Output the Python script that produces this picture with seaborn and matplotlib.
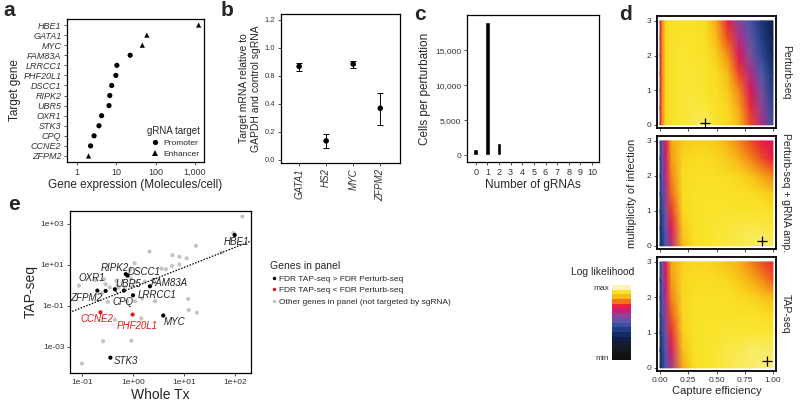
import numpy as np
import pandas as pd
import seaborn as sns
import matplotlib.pyplot as plt
from matplotlib.colors import LinearSegmentedColormap
from matplotlib.lines import Line2D
import matplotlib as mpl

# ---- panel a: expression of target genes
genes_a = ["HBE1", "GATA1", "MYC", "FAM83A", "LRRCC1", "PHF20L1", "DSCC1",
           "RIPK2", "UBR5", "OXR1", "STK3", "CPQ", "CCNE2", "ZFPM2"]
expr_a = [1260, 60, 46, 22.5, 10.3, 9.7, 7.6, 6.8, 6.5, 4.2, 3.6, 2.7, 2.2, 1.95]
target_a = ["Enhancer", "Enhancer", "Enhancer", "Promoter", "Promoter", "Promoter",
            "Promoter", "Promoter", "Promoter", "Promoter", "Promoter", "Promoter",
            "Promoter", "Enhancer"]

# ---- panel b: qPCR
genes_b = ["GATA1", "HS2", "MYC", "ZFPM2"]
mrna_b = [0.80, 0.16, 0.82, 0.44]
lo_b = [0.76, 0.10, 0.79, 0.30]
hi_b = [0.83, 0.22, 0.85, 0.57]
b_tick_labels = ["0.0", "0.2", "0.4", "0.8", "1.0", "1.2"]

# ---- panel c: gRNAs per cell
n_grnas = [0, 1, 2, 3, 4, 5, 6, 7, 8, 9, 10]
cells_c = [950, 19000, 1750, 240, 60, 25, 0, 0, 0, 0, 0]

# ---- panel d: normalised log likelihood (0 = min, 1 = max)
cap_grid = [0, 0.02, 0.05, 0.1, 0.2, 0.3, 0.4, 0.5, 0.6, 0.7, 0.8, 0.9, 1.0]
moi_grid = [0, 0.5, 1, 1.5, 2, 2.5, 3]
ll_perturb = [
    [0.72, 0.82, 0.90, 0.93, 0.95, 0.96, 0.97, 0.94, 0.91, 0.86, 0.77, 0.64, 0.48],
    [0.72, 0.82, 0.90, 0.93, 0.95, 0.96, 0.95, 0.93, 0.90, 0.84, 0.74, 0.60, 0.44],
    [0.72, 0.82, 0.90, 0.93, 0.95, 0.95, 0.94, 0.92, 0.88, 0.81, 0.70, 0.56, 0.40],
    [0.72, 0.82, 0.90, 0.93, 0.95, 0.95, 0.94, 0.91, 0.86, 0.76, 0.64, 0.50, 0.36],
    [0.72, 0.82, 0.90, 0.93, 0.95, 0.94, 0.93, 0.89, 0.82, 0.70, 0.58, 0.45, 0.32],
    [0.72, 0.82, 0.90, 0.93, 0.94, 0.94, 0.92, 0.86, 0.77, 0.64, 0.53, 0.41, 0.29],
    [0.72, 0.82, 0.90, 0.92, 0.93, 0.93, 0.91, 0.84, 0.73, 0.59, 0.49, 0.38, 0.27],
]
ll_amp = [
    [0.36, 0.40, 0.50, 0.64, 0.86, 0.92, 0.94, 0.95, 0.96, 0.96, 0.97, 0.98, 0.97],
    [0.37, 0.42, 0.54, 0.70, 0.88, 0.93, 0.94, 0.95, 0.95, 0.96, 0.96, 0.96, 0.95],
    [0.38, 0.45, 0.58, 0.75, 0.90, 0.93, 0.94, 0.94, 0.94, 0.94, 0.94, 0.94, 0.93],
    [0.40, 0.49, 0.62, 0.79, 0.91, 0.93, 0.93, 0.93, 0.93, 0.92, 0.92, 0.90, 0.88],
    [0.41, 0.52, 0.65, 0.81, 0.91, 0.92, 0.92, 0.92, 0.91, 0.90, 0.88, 0.84, 0.81],
    [0.42, 0.54, 0.68, 0.83, 0.90, 0.91, 0.91, 0.90, 0.88, 0.85, 0.81, 0.77, 0.73],
    [0.44, 0.56, 0.70, 0.84, 0.88, 0.89, 0.89, 0.88, 0.85, 0.81, 0.77, 0.73, 0.70],
]
ll_tap = [
    [0.36, 0.40, 0.50, 0.62, 0.84, 0.92, 0.94, 0.95, 0.96, 0.97, 0.97, 0.98, 0.98],
    [0.37, 0.42, 0.53, 0.68, 0.87, 0.93, 0.94, 0.95, 0.96, 0.96, 0.97, 0.97, 0.97],
    [0.38, 0.45, 0.58, 0.74, 0.89, 0.93, 0.94, 0.94, 0.95, 0.95, 0.95, 0.95, 0.95],
    [0.40, 0.49, 0.62, 0.78, 0.90, 0.93, 0.93, 0.93, 0.93, 0.93, 0.93, 0.92, 0.91],
    [0.41, 0.52, 0.65, 0.81, 0.90, 0.92, 0.92, 0.92, 0.92, 0.91, 0.90, 0.88, 0.86],
    [0.42, 0.55, 0.68, 0.83, 0.90, 0.91, 0.91, 0.91, 0.90, 0.88, 0.85, 0.82, 0.78],
    [0.44, 0.57, 0.70, 0.84, 0.89, 0.90, 0.90, 0.89, 0.87, 0.85, 0.81, 0.77, 0.74],
]
facet_names = ["Perturb-seq", "Perturb-seq + gRNA amp.", "TAP-seq"]
best_cap = [0.40, 0.90, 0.95]
best_moi = [0.05, 0.15, 0.20]

# ---- panel e: TAP-seq vs whole transcriptome
e_genes = ["HBE1", "RIPK2", "DSCC1", "UBR5", "FAM83A", "OXR1", "ZFPM2", "CPQ",
           "LRRCC1", "CCNE2", "PHF20L1", "MYC", "STK3"]
e_whole = [97.7, 0.72, 0.78, 0.66, 2.14, 0.29, 0.20, 0.44, 1.0, 0.23, 0.98, 3.9, 0.36]
e_tap = [288, 3.55, 3.0, 0.56, 0.91, 0.54, 0.56, 0.65, 0.33, 0.049, 0.038, 0.034, 0.0003]
e_group = ["up", "up", "up", "up", "up", "up", "up", "up", "up", "down", "down", "up", "up"]
other_whole = [138, 93, 17, 54, 2.1, 5.9, 8.1, 11.2, 1.07, 3.6, 4.4, 8.1, 5.8, 0.87,
               0.087, 0.27, 0.18, 0.47, 0.91, 0.50, 0.29, 0.35, 0.52, 0.69, 0.93, 1.12,
               1.7, 2.6, 0.245, 0.32, 0.76, 1.5, 1.1, 2.7, 12, 12.3, 17.8, 1.45, 0.44,
               0.26, 0.93, 0.10]
other_tap = [2290, 355, 85, 40, 45, 30, 25, 21, 12, 6.6, 6.2, 10.5, 8.9, 5.8,
             0.98, 2.0, 1.8, 1.7, 2.2, 0.95, 1.15, 0.81, 0.78, 0.81, 0.85, 1.48,
             1.55, 1.48, 0.40, 0.16, 0.17, 0.23, 0.17, 0.17, 0.22, 0.063, 0.047, 0.025,
             0.021, 0.0019, 0.002, 0.000155]
fit_intercept, fit_slope = -0.10, 0.98  # dotted trend line in log10 space
# label offsets in pixels (dx, dy)
e_offsets = {"HBE1": (2, -7), "RIPK2": (-11, 6), "DSCC1": (17, 4), "UBR5": (4, 7),
             "FAM83A": (19, 3), "OXR1": (-14, 13), "ZFPM2": (-11, -7), "CPQ": (8, -13),
             "LRRCC1": (24, 0), "CCNE2": (-4, -7), "PHF20L1": (5, -11), "MYC": (11, -6),
             "STK3": (16, -3)}

sns.set_theme(style="white")
plt.rcParams["font.family"] = ["Liberation Sans", "DejaVu Sans"]
plt.rcParams["axes.edgecolor"] = "black"
plt.rcParams["axes.linewidth"] = 0.9
for k in ["xtick", "ytick"]:
    plt.rcParams[k + ".bottom" if k == "xtick" else k + ".left"] = True
    plt.rcParams[k + ".major.size"] = 2.5
    plt.rcParams[k + ".major.width"] = 0.6
    plt.rcParams[k + ".color"] = "#333333"
    plt.rcParams[k + ".labelsize"] = 6.5
    plt.rcParams[k + ".major.pad"] = 1.5

W, H = 800, 409
fig = plt.figure(figsize=(8, 4.09), dpi=100)


def box(l, t, r, b):
    return [l / W, 1 - b / H, (r - l) / W, (b - t) / H]


def letter(x, y, s):
    fig.text(x / W, 1 - y / H, s, fontsize=15, fontweight="bold", va="center", ha="left")


# ---------------- a
ax_a = fig.add_axes(box(67, 19, 204, 162))
df_a = pd.DataFrame({"gene": genes_a, "expr": expr_a, "target": target_a})
sns.scatterplot(data=df_a, x="expr", y="gene", style="target",
                style_order=["Promoter", "Enhancer"],
                markers={"Promoter": "o", "Enhancer": "^"},
                color="black", s=14, edgecolor="none", ax=ax_a)
ax_a.set_xscale("log")
ax_a.set_xlim(0.55, 1725)
ax_a.set_ylim(13.6, -0.6)
ax_a.set_xticks([1, 10, 100, 1000])
ax_a.set_xticklabels(["1", "10", "100", "1,000"])
ax_a.xaxis.set_minor_locator(mpl.ticker.NullLocator())
for t in ax_a.get_yticklabels():
    t.set_fontstyle("italic")
ax_a.set_xlabel("Gene expression (Molecules/cell)", fontsize=8.5, labelpad=2)
ax_a.set_ylabel("Target gene", fontsize=8.5, labelpad=2)
sns.move_legend(ax_a, "lower right", title="gRNA target", frameon=False,
                fontsize=6, title_fontsize=7, handletextpad=0.1, labelspacing=0.35,
                borderaxespad=0.3, borderpad=0.2)

# ---------------- b
ax_b = fig.add_axes(box(281, 14, 400, 163))
df_b = pd.DataFrame({"gene": genes_b, "mrna": mrna_b, "lo": lo_b, "hi": hi_b})
sns.scatterplot(data=df_b, x="gene", y="mrna", color="black", s=16,
                edgecolor="none", ax=ax_b, zorder=3)
ax_b.errorbar(range(len(genes_b)), df_b["mrna"],
              yerr=[df_b["mrna"] - df_b["lo"], df_b["hi"] - df_b["mrna"]],
              fmt="none", ecolor="black", elinewidth=0.7, capsize=2.5, capthick=0.7)
ax_b.set_xlim(-0.67, 3.73)
ax_b.set_ylim(-0.03, 1.25)
ax_b.set_yticks(np.linspace(0, 1.2, len(b_tick_labels)))
ax_b.set_yticklabels(b_tick_labels, fontsize=5.5)
ax_b.set_xticks(range(len(genes_b)))
ax_b.set_xticklabels(genes_b, rotation=90, fontstyle="italic", fontsize=7)
ax_b.set_xlabel("")
ax_b.set_ylabel("Target mRNA relative to\nGAPDH and control sgRNA", fontsize=7.5, labelpad=3)

# ---------------- c
ax_c = fig.add_axes(box(467, 15, 599, 162))
sns.barplot(x=n_grnas, y=cells_c, color="black", saturation=1, width=0.42, ax=ax_c)
ax_c.set_xlim(-0.75, 10.6)
ax_c.set_ylim(-950, 20050)
ax_c.set_yticks([0, 5000, 10000, 15000])
ax_c.set_yticklabels(["0", "5,000", "10,000", "15,000"], fontsize=6)
ax_c.set_xlabel("Number of gRNAs", fontsize=8.5, labelpad=2)
ax_c.set_ylabel("Cells per perturbation", fontsize=8.5, labelpad=3)

# ---------------- d
ll_cmap = LinearSegmentedColormap.from_list("ll", [
    (0.00, "#111111"), (0.15, "#171a24"), (0.30, "#0f2152"), (0.42, "#22428f"),
    (0.50, "#4a5aa8"), (0.58, "#7e4f9e"), (0.66, "#c3207e"), (0.72, "#e3134a"),
    (0.77, "#ee4a20"), (0.82, "#f39015"), (0.86, "#f7b815"), (0.91, "#f9dc22"),
    (0.95, "#f9e52e"), (0.975, "#f9ec6a"), (1.00, "#fbf4b8")])
facet_boxes = [(657, 16, 776, 128), (657, 136, 776, 249), (657, 257, 776, 371)]
for i, (grid, name) in enumerate(zip([ll_perturb, ll_amp, ll_tap], facet_names)):
    ax = fig.add_axes(box(*facet_boxes[i]))
    ax.pcolormesh(cap_grid, moi_grid, np.array(grid), shading="gouraud",
                  cmap=ll_cmap, vmin=0, vmax=1)
    ax.plot(best_cap[i], best_moi[i], marker="+", color="black", ms=7, mew=0.9)
    ax.set_xlim(-0.027, 1.027)
    ax.set_ylim(-0.09, 3.14)
    ax.set_yticks([0, 1, 2, 3])
    ax.set_xticks([0, 0.25, 0.5, 0.75, 1.0])
    for s in ax.spines.values():
        s.set_linewidth(1.3)
    if i < 2:
        ax.set_xticklabels([])
    else:
        ax.set_xticklabels(["0.00", "0.25", "0.50", "0.75", "1.00"], fontsize=6)
        ax.set_xlabel("Capture efficiency", fontsize=8, labelpad=2)
    ax.tick_params(labelsize=6)
    l, t, r, b = facet_boxes[i]
    fig.text(786 / W, 1 - (t + b) / 2 / H, name, rotation=270, fontsize=7.5,
             ha="center", va="center")
fig.text(632 / W, 1 - 193 / H, "multiplicity of infection", rotation=90,
         fontsize=8, ha="center", va="center")

cax = fig.add_axes(box(612, 285, 631, 360))
cb = mpl.colorbar.ColorbarBase(cax, cmap=ll_cmap.resampled(16),
                               norm=mpl.colors.Normalize(0, 1))
cb.outline.set_visible(False)
cb.set_ticks([0.04, 0.96])
cb.set_ticklabels(["min", "max"])
cax.yaxis.set_ticks_position("left")
cax.tick_params(length=0, labelsize=6, pad=2)
fig.text(603 / W, 1 - 272 / H, "Log likelihood", fontsize=7.5, ha="center", va="center")

# ---------------- e
ax_e = fig.add_axes(box(70, 211, 251, 373))
df_other = pd.DataFrame({"whole": other_whole, "tap": other_tap})
df_e = pd.DataFrame({"gene": e_genes, "whole": e_whole, "tap": e_tap, "group": e_group})
sns.scatterplot(data=df_other, x="whole", y="tap", color="#c4c4c4", s=9,
                edgecolor="none", ax=ax_e, zorder=2)
sns.scatterplot(data=df_e, x="whole", y="tap", hue="group",
                palette={"up": "black", "down": "#e8141c"}, s=9,
                edgecolor="none", ax=ax_e, legend=False, zorder=3)
ax_e.set_xscale("log")
ax_e.set_yscale("log")
ax_e.set_xlim(10 ** -1.235, 10 ** 2.31)
ax_e.set_ylim(10 ** -4.27, 10 ** 3.63)
xs = np.logspace(-1.3, 2.4, 60)
ax_e.plot(xs, 10 ** (fit_intercept + fit_slope * np.log10(xs)), ls=(0, (1.2, 1.2)),
          color="black", lw=0.9, zorder=2.5)
ax_e.set_xticks([0.1, 1, 10, 100])
ax_e.set_xticklabels(["1e-01", "1e+00", "1e+01", "1e+02"])
ax_e.set_yticks([1e-3, 1e-1, 1e1, 1e3])
ax_e.set_yticklabels(["1e-03", "1e-01", "1e+01", "1e+03"])
ax_e.xaxis.set_minor_locator(mpl.ticker.NullLocator())
ax_e.yaxis.set_minor_locator(mpl.ticker.NullLocator())
ax_e.tick_params(labelsize=6)
ax_e.set_xlabel("Whole Tx", fontsize=10, labelpad=2)
ax_e.set_ylabel("TAP-seq", fontsize=10, labelpad=2)
for g, x, y, grp in zip(e_genes, e_whole, e_tap, e_group):
    dx, dy = e_offsets[g]
    arrow = dict(arrowstyle="-", color="black", lw=0.6, shrinkA=4, shrinkB=1.5) \
        if g in ("OXR1", "CPQ") else None
    ax_e.annotate(g, (x, y), xytext=(dx, dy), textcoords="offset pixels",
                  ha="center", va="center", fontsize=7, fontstyle="italic",
                  color="#e8141c" if grp == "down" else "#222222",
                  arrowprops=arrow, zorder=4)

handles = [Line2D([], [], ls="", marker="o", ms=2.5, color=c, mec="none")
           for c in ["black", "#e8141c", "#c4c4c4"]]
fig.legend(handles, ["FDR TAP-seq > FDR Perturb-seq", "FDR TAP-seq < FDR Perturb-seq",
                     "Other genes in panel (not targeted by sgRNA)"],
           title="Genes in panel", loc="upper left", bbox_to_anchor=(266 / W, 1 - 257 / H),
           frameon=False, fontsize=6, title_fontsize=7.5, handletextpad=0.3,
           handlelength=0.8, labelspacing=0.45, borderpad=0, alignment="left")

letter(3, 10, "a")
letter(221, 10, "b")
letter(414, 14, "c")
letter(619, 15, "d")
letter(8, 205, "e")

fig.savefig("out.png", dpi=100)
